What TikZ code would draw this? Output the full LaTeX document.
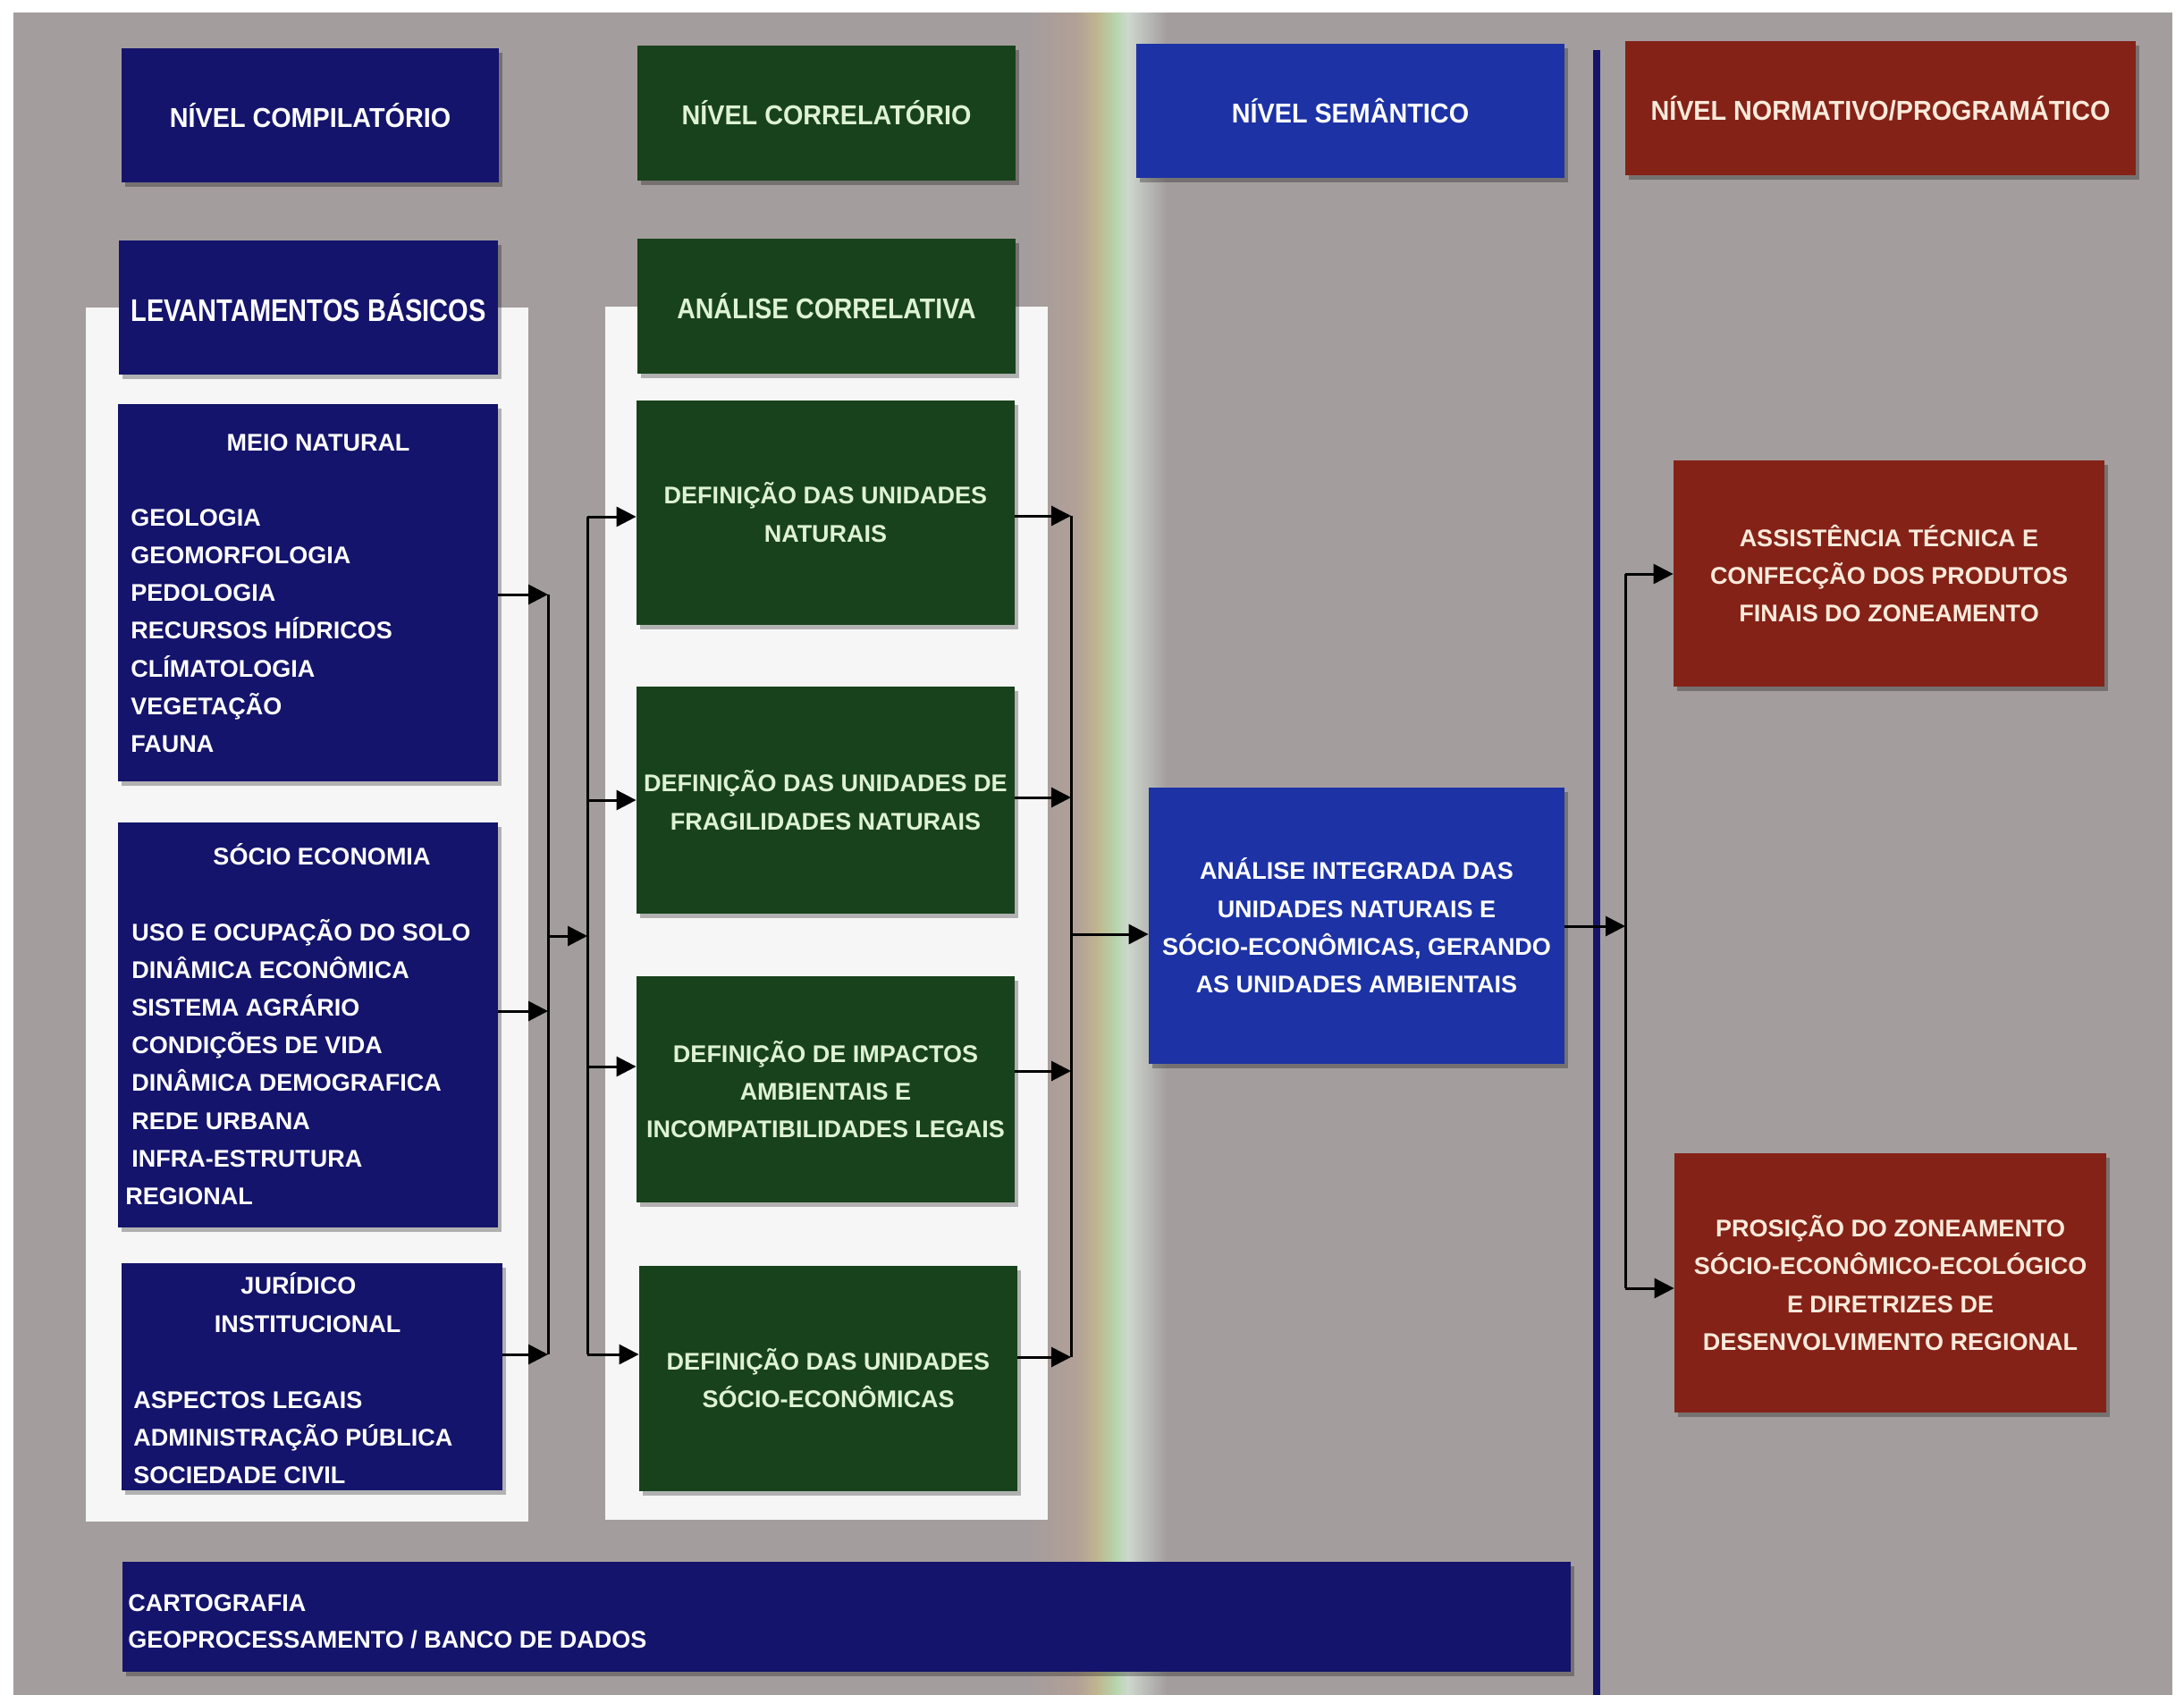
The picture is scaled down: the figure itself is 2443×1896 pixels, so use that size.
\documentclass[tikz,border=0pt]{standalone}
\usepackage{fontspec}
\setmainfont{Liberation Sans}
\newfontfamily\fTitle{Liberation Sans}[FakeStretch=0.94]
\newfontfamily\fLev{Liberation Sans}[FakeStretch=0.83]
\newfontfamily\fAna{Liberation Sans}[FakeStretch=0.89]
\usetikzlibrary{arrows.meta,shadows}
\definecolor{bggray}{RGB}{164,157,157}
\definecolor{navy}{RGB}{20,20,108}
\definecolor{dgreen}{RGB}{24,66,28}
\definecolor{sblue}{RGB}{28,50,165}
\definecolor{dred}{RGB}{132,34,24}
\definecolor{panel}{RGB}{246,246,246}
\definecolor{mint}{RGB}{222,242,212}
\definecolor{cream}{RGB}{250,234,218}
\definecolor{rbA}{RGB}{178,160,150}
\definecolor{rbB}{RGB}{192,182,142}
\definecolor{rbC}{RGB}{182,214,172}
\definecolor{rbD}{RGB}{206,216,206}
\begin{document}
\begin{tikzpicture}[x=0.5pt,y=-0.5pt,
  box/.style={inner sep=0pt, align=center, text=white,
    font=\bfseries\fontsize{13.5pt}{21.2pt}\selectfont,
    general shadow={fill=black, opacity=0.28, shadow xshift=2pt, shadow yshift=-2.5pt}},
  navybox/.style={box, fill=navy},
  greenbox/.style={box, fill=dgreen, text=mint},
  bluebox/.style={box, fill=sblue},
  redbox/.style={box, fill=dred, text=cream},
  ttl/.style={font=\fTitle\bfseries\fontsize{15.3pt}{18pt}\selectfont},
  lt/.style={inner sep=0pt, text=white, font=\bfseries\fontsize{13.5pt}{16pt}\selectfont},
  bus/.style={line width=1.5pt, black},
  conn/.style={line width=1.5pt, black, -{Triangle[length=11pt,width=11pt]}}]
\useasboundingbox (0,0) rectangle (2443,1896);
\fill[white] (0,0) rectangle (2443,1896);
\fill[bggray] (15,14) rectangle (2430,1896);
% rainbow stripe
\shade[left color=bggray, right color=rbA] (1150,14) rectangle (1205,1896);
\shade[left color=rbA, right color=rbB] (1204,14) rectangle (1228,1896);
\shade[left color=rbB, right color=rbC] (1227,14) rectangle (1249,1896);
\shade[left color=rbC, right color=rbD] (1248,14) rectangle (1262,1896);
\shade[left color=rbD, right color=bggray] (1261,14) rectangle (1305,1896);
% white panels
\fill[panel] (96,344) rectangle (591,1702);
\fill[panel] (677,343) rectangle (1172,1700);
% separator
\draw[navy, line width=4pt] (1786,56) -- (1786,1896);

% header row
\node[navybox, ttl, minimum width=211pt, minimum height=75pt] (tcomp) at (347,129) {NÍVEL COMPILATÓRIO};
\node[greenbox, ttl, minimum width=211.5pt, minimum height=75.5pt] (tcorr) at (924.5,126.5) {NÍVEL CORRELATÓRIO};
\node[bluebox, ttl, minimum width=239.5pt, minimum height=75pt] (tsem) at (1510.5,124) {NÍVEL SEMÂNTICO};
\node[redbox, ttl, minimum width=285.5pt, minimum height=75pt] (tnorm) at (2103.5,121) {NÍVEL NORMATIVO/PROGRAMÁTICO};

% column 1
\node[navybox, font=\fLev\bfseries\fontsize{17.5pt}{20pt}\selectfont, minimum width=212pt, minimum height=75pt] (lev) at (345,344) {LEVANTAMENTOS BÁSICOS};
\node[navybox, minimum width=212.5pt, minimum height=211pt] (meio) at (344.5,663) {};
\node[navybox, minimum width=212.5pt, minimum height=226.5pt] (socio) at (344.5,1146.5) {};
\node[navybox, minimum width=213pt, minimum height=127pt] (jur) at (349,1540) {};
\node[navybox, minimum width=810pt, minimum height=61.5pt] (carto) at (947,1808.5) {};

\node[lt, anchor=base] (meioT) at (356,504) {MEIO NATURAL};
\foreach \t [count=\i] in {GEOLOGIA,GEOMORFOLOGIA,PEDOLOGIA,RECURSOS HÍDRICOS,CLÍMATOLOGIA,VEGETAÇÃO,FAUNA}
  \node[lt, anchor=base west] (mn\i) at (146,{588+42.3*(\i-1)}) {\t};

\node[lt, anchor=base] (socioT) at (360,967) {SÓCIO ECONOMIA};
\foreach \t [count=\i] in {USO E OCUPAÇÃO DO SOLO,DINÂMICA ECONÔMICA,SISTEMA AGRÁRIO,CONDIÇÕES DE VIDA,DINÂMICA DEMOGRAFICA,REDE URBANA,INFRA-ESTRUTURA}
  \node[lt, anchor=base west] (se\i) at (147,{1052+42.2*(\i-1)}) {\t};
\node[lt, anchor=base west] (se8) at (140,1347) {REGIONAL};

\node[lt, anchor=base] (jurT1) at (334,1447) {JURÍDICO};
\node[lt, anchor=base] (jurT2) at (344,1490) {INSTITUCIONAL};
\node[lt, anchor=base west] (ji1) at (149,1575) {ASPECTOS LEGAIS};
\node[lt, anchor=base west] (ji2) at (149,1617) {ADMINISTRAÇÃO PÚBLICA};
\node[lt, anchor=base west] (ji3) at (149,1659) {SOCIEDADE CIVIL};

\node[lt, anchor=base west] (ca1) at (143,1802) {CARTOGRAFIA};
\node[lt, anchor=base west] (ca2) at (143,1843) {GEOPROCESSAMENTO / BANCO DE DADOS};

% column 2
\node[greenbox, font=\fAna\bfseries\fontsize{16pt}{19pt}\selectfont, minimum width=211.5pt, minimum height=75.5pt] (anac) at (924.5,342.5) {ANÁLISE CORRELATIVA};
\node[greenbox, minimum width=211.5pt, minimum height=125.5pt] (dnat) at (923.5,573) {DEFINIÇÃO DAS UNIDADES\\NATURAIS};
\node[greenbox, minimum width=211.5pt, minimum height=127pt] (dfrag) at (923.5,895) {DEFINIÇÃO DAS UNIDADES DE\\FRAGILIDADES NATURAIS};
\node[greenbox, minimum width=211.5pt, minimum height=126.5pt] (dimp) at (923.5,1218.5) {DEFINIÇÃO DE IMPACTOS\\AMBIENTAIS E\\INCOMPATIBILIDADES LEGAIS};
\node[greenbox, minimum width=211.5pt, minimum height=126pt] (dsoc) at (926.5,1541.5) {DEFINIÇÃO DAS UNIDADES\\SÓCIO-ECONÔMICAS};

% column 3
\node[bluebox, minimum width=232.5pt, minimum height=154.5pt] (integ) at (1517.5,1035.5) {ANÁLISE INTEGRADA DAS\\UNIDADES NATURAIS E\\SÓCIO-ECONÔMICAS, GERANDO\\AS UNIDADES AMBIENTAIS};

% column 4
\node[redbox, minimum width=241pt, minimum height=126.5pt] (assist) at (2113,641.5) {ASSISTÊNCIA TÉCNICA E\\CONFECÇÃO DOS PRODUTOS\\FINAIS DO ZONEAMENTO};
\node[redbox, minimum width=241.5pt, minimum height=145pt] (prop) at (2114.5,1435) {PROSIÇÃO DO ZONEAMENTO\\SÓCIO-ECONÔMICO-ECOLÓGICO\\E DIRETRIZES DE\\DESENVOLVIMENTO REGIONAL};

% bus 1
\coordinate (b1a) at (613,665);
\coordinate (b1m) at (613,1047);
\coordinate (b1b) at (613,1131);
\coordinate (b1c) at (613,1515);
\draw[bus] (b1a) -- (b1c);
\draw[conn] (meio.east |- b1a) -- (b1a);
\draw[conn] (socio.east |- b1b) -- (b1b);
\draw[conn] (jur.east |- b1c) -- (b1c);
% bus 2
\coordinate (b2a) at (657,578);
\coordinate (b2m) at (657,1047);
\coordinate (b2b) at (657,895);
\coordinate (b2c) at (657,1193);
\coordinate (b2d) at (657,1515);
\draw[conn] (b1m) -- (b2m);
\draw[bus] (b2a) -- (b2d);
\draw[conn] (b2a) -- (dnat.west |- b2a);
\draw[conn] (b2b) -- (dfrag.west |- b2b);
\draw[conn] (b2c) -- (dimp.west |- b2c);
\draw[conn] (b2d) -- (dsoc.west |- b2d);
% bus 3
\coordinate (b3a) at (1198,577);
\coordinate (b3b) at (1198,892);
\coordinate (b3c) at (1198,1198);
\coordinate (b3d) at (1198,1518);
\coordinate (b3m) at (1198,1045);
\draw[bus] (b3a) -- (b3d);
\draw[conn] (dnat.east |- b3a) -- (b3a);
\draw[conn] (dfrag.east |- b3b) -- (b3b);
\draw[conn] (dimp.east |- b3c) -- (b3c);
\draw[conn] (dsoc.east |- b3d) -- (b3d);
\draw[conn] (b3m) -- (integ.west |- b3m);
% bus 4
\coordinate (b4a) at (1818,642);
\coordinate (b4m) at (1818,1036);
\coordinate (b4b) at (1818,1441);
\draw[conn] (integ.east |- b4m) -- (b4m);
\draw[bus] (b4a) -- (b4b);
\draw[conn] (b4a) -- (assist.west |- b4a);
\draw[conn] (b4b) -- (prop.west |- b4b);
\end{tikzpicture}
\end{document}
